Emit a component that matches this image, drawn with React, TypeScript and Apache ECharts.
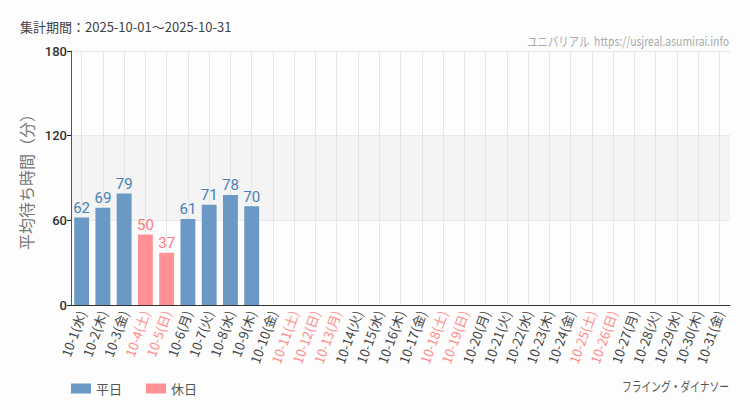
import React, { useEffect, useRef } from "react";
import * as echarts from "echarts";

const categories = [
  "10-1(水)", "10-2(木)", "10-3(金)", "10-4(土)", "10-5(日)", "10-6(月)", "10-7(火)", "10-8(水)",
  "10-9(木)", "10-10(金)", "10-11(土)", "10-12(日)", "10-13(月)", "10-14(火)", "10-15(水)", "10-16(木)",
  "10-17(金)", "10-18(土)", "10-19(日)", "10-20(月)", "10-21(火)", "10-22(水)", "10-23(木)", "10-24(金)",
  "10-25(土)", "10-26(日)", "10-27(月)", "10-28(火)", "10-29(水)", "10-30(木)", "10-31(金)",
];
const holidayFlags = [
  0, 0, 0, 1, 1, 0, 0, 0, 0, 0, 1, 1, 1, 0, 0, 0,
  0, 1, 1, 0, 0, 0, 0, 0, 1, 1, 0, 0, 0, 0, 0,
];
const waitValues: (number | null)[] = [
  62, 69, 79, 50, 37, 61, 71, 78, 70, null, null, null, null, null, null, null,
  null, null, null, null, null, null, null, null, null, null, null, null, null, null, null,
];
const yTicks = [0, 60, 120, 180];
const bandRange = [60, 120];
const titleText = "集計期間：2025-10-01〜2025-10-31";
const watermarkText = "ユニバリアル  https://usjreal.asumirai.info";
const attractionName = "フライング・ダイナソー";
const seriesNames = ["平日", "休日"];

const WEEKDAY_BAR = "#6a99c5";
const HOLIDAY_BAR = "#ff9196";
const WEEKDAY_LABEL = "#4a80b8";
const HOLIDAY_LABEL = "#ff7880";
const JP = "'Noto Sans CJK JP', sans-serif";

function rightText(text: string, x: number, y: number, color: string, scale: number) {
  return {
    type: "group",
    x,
    y,
    scaleX: scale,
    children: [
      {
        type: "text",
        x: 0,
        y: 0,
        style: {
          text,
          fontSize: 13,
          fill: color,
          fontFamily: JP,
          align: "right",
          verticalAlign: "middle",
          textAlign: "right",
          textVerticalAlign: "middle",
        },
      },
    ],
  };
}

export default function App() {
  const ref = useRef<HTMLDivElement>(null);
  useEffect(() => {
    if (!ref.current) return;
    const chart = echarts.init(ref.current, undefined, { renderer: "svg" });
    const weekdayData = waitValues.map((v, i) => (holidayFlags[i] ? null : v));
    const holidayData = waitValues.map((v, i) => (holidayFlags[i] ? v : null));
    const barLabel = (color: string) => ({
      show: true,
      position: "top",
      distance: 2,
      fontSize: 15,
      color,
      fontFamily: "Roboto, sans-serif",
    });
    chart.setOption({
      animation: false,
      backgroundColor: "#fcfdfc",
      grid: { left: 71, right: 20, top: 51, bottom: 105 },
      graphic: [
        {
          type: "text",
          x: 20,
          y: 26,
          style: {
            text: titleText,
            fontSize: 13,
            fill: "#444",
            fontFamily: JP,
            verticalAlign: "middle",
            textVerticalAlign: "middle",
          },
        },
        rightText(watermarkText, 729, 40, "#aaa", 0.8),
        rightText(attractionName, 729, 385, "#555", 0.75),
      ],
      legend: {
        left: 66,
        top: 377,
        itemWidth: 20,
        itemHeight: 10,
        itemGap: 24,
        icon: "rect",
        data: seriesNames,
        textStyle: { fontSize: 13, color: "#555", fontFamily: JP },
      },
      xAxis: {
        type: "category",
        data: categories.map((c, i) => ({
          value: c,
          textStyle: { color: holidayFlags[i] ? "#ff8a8a" : "#444" },
        })),
        axisLine: { lineStyle: { color: "#333" } },
        axisTick: { alignWithLabel: true, lineStyle: { color: "#333" } },
        splitLine: { show: false },
        axisLabel: {
          rotate: 70,
          interval: 0,
          fontSize: 13,
          margin: 6,
          fontFamily: JP,
        },
      },
      yAxis: {
        type: "value",
        min: 0,
        max: 180,
        interval: 60,
        name: "平均待ち時間（分）",
        nameLocation: "middle",
        nameGap: 32,
        nameTextStyle: { fontSize: 16, color: "#777", fontFamily: JP },
        axisLine: { show: true, lineStyle: { color: "#555" } },
        axisTick: { show: true, length: 4, lineStyle: { color: "#222" } },
        splitLine: { lineStyle: { color: "#e6e6e6" } },
        axisLabel: {
          fontSize: 13,
          color: "#333",
          margin: 4,
          fontWeight: 500,
          fontFamily: "Roboto, sans-serif",
          customValues: yTicks,
        },
      },
      series: [
        {
          name: "grid",
          type: "line",
          data: [],
          silent: true,
          z: 1,
          markArea: {
            silent: true,
            z: 0,
            itemStyle: { color: "#f3f4f3" },
            data: [[{ yAxis: bandRange[0] }, { yAxis: bandRange[1] }]],
          },
          markLine: {
            silent: true,
            z: 1,
            symbol: ["none", "none"],
            label: { show: false },
            lineStyle: { color: "#e6e6e6", type: "solid", width: 1 },
            data: categories.map((c) => ({ xAxis: c })),
          },
        },
        {
          name: seriesNames[0],
          type: "bar",
          data: weekdayData,
          barWidth: "70%",
          barGap: "-100%",
          itemStyle: { color: WEEKDAY_BAR },
          label: barLabel(WEEKDAY_LABEL),
          z: 3,
        },
        {
          name: seriesNames[1],
          type: "bar",
          data: holidayData,
          barWidth: "70%",
          barGap: "-100%",
          itemStyle: { color: HOLIDAY_BAR },
          label: barLabel(HOLIDAY_LABEL),
          z: 3,
        },
      ],
    });
    return () => chart.dispose();
  }, []);
  return (
    <div
      ref={ref}
      style={{ position: "fixed", left: 0, top: 0, width: 750, height: 410 }}
    />
  );
}
